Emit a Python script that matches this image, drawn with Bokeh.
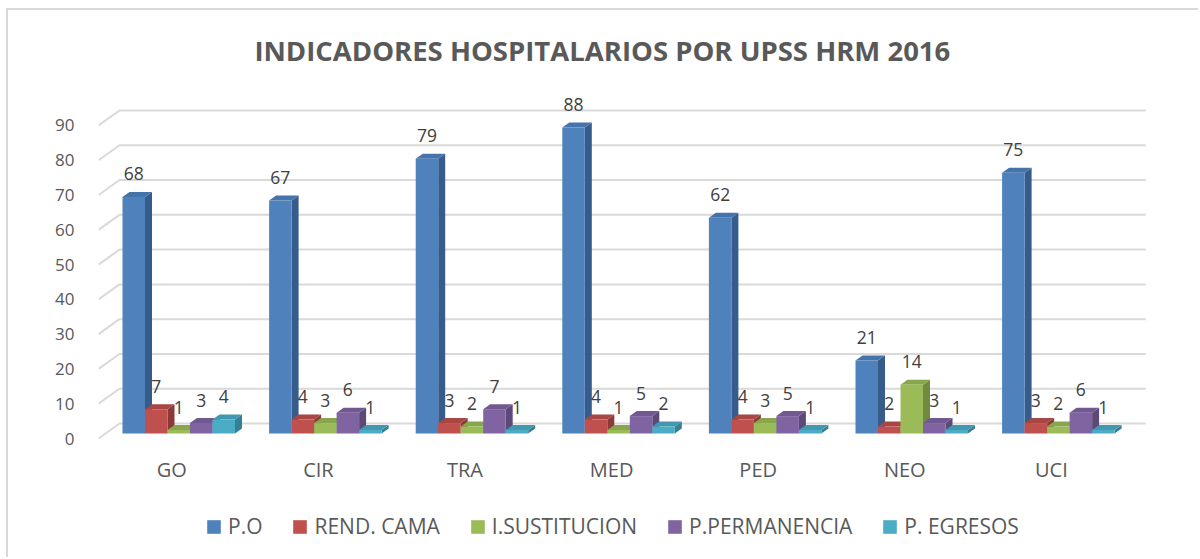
from bokeh.plotting import figure
from bokeh.models import Range1d, FixedTicker, Legend, LegendItem
from bokeh.core.properties import value
from bokeh.embed import file_html
from bokeh.resources import INLINE

# ---------------- data ----------------
categories = ["GO", "CIR", "TRA", "MED", "PED", "NEO", "UCI"]
series_names = ["P.O", "REND. CAMA", "I.SUSTITUCION", "P.PERMANENCIA", "P. EGRESOS"]
p_o = [68, 67, 79, 88, 62, 21, 75]
rend_cama = [7, 4, 3, 4, 4, 2, 3]
i_sustitucion = [1, 3, 2, 1, 3, 14, 2]
p_permanencia = [3, 6, 7, 5, 5, 3, 6]
p_egresos = [4, 1, 1, 2, 1, 1, 1]
y_ticks = [0, 10, 20, 30, 40, 50, 60, 70, 80, 90]
title_text = "INDICADORES  HOSPITALARIOS  POR UPSS HRM 2016"

series_values = [p_o, rend_cama, i_sustitucion, p_permanencia, p_egresos]

# ---------------- style / layout ----------------
front_colors = ["#4F81BD", "#C0504D", "#9BBB59", "#8064A2", "#4BACC6"]
side_colors = ["#365C8C", "#8C3A38", "#728A40", "#5D4978", "#377F93"]
top_colors = ["#4573AC", "#A84643", "#88A64C", "#715891", "#4198B0"]
FONT = "Open Sans"
GRID_COLOR = "#D9D9D9"
TEXT_COLOR = "#595959"
LABEL_COLOR = "#404040"

ORIGIN_X, ORIGIN_Y = 8, 10  # page position of the canvas (after margin + border)
W, H = 1200 - ORIGIN_X, 559 - ORIGIN_Y
FRAME_LEFT = 98           # page x of front-left of floor (x=0)
ZERO_Y = 438              # page y of value 0 on front plane
PX_CAT = 146.6            # pixels per category
PX_VAL = 3.478            # pixels per value unit
DEPTH_PX = (21, 15)       # back-wall offset in px
GAP = 17 / PX_CAT
BW = 22.5 / PX_CAT
DX = DEPTH_PX[0] / PX_CAT
DY = DEPTH_PX[1] / PX_VAL
BDX, BDY = DX / 3, DY / 3  # bar front offset & bar depth

min_left = FRAME_LEFT - ORIGIN_X
x_start = 0.0
x_end = (ORIGIN_X + W - FRAME_LEFT) / PX_CAT
y_end = (ZERO_Y - ORIGIN_Y) / PX_VAL
y_start = (ZERO_Y - (ORIGIN_Y + H)) / PX_VAL

p = figure(width=W, height=H, output_backend="svg", toolbar_location=None,
           x_range=Range1d(x_start, x_end), y_range=Range1d(y_start, y_end),
           x_axis_location=None, min_border_left=min_left, min_border_right=0,
           min_border_top=0, min_border_bottom=0, outline_line_color=None)
p.styles = {"margin-left": "6px", "margin-top": "8px",
            "border-left": "2px solid #D9D9D9", "border-top": "2px solid #D9D9D9"}
p.xgrid.visible = False
p.ygrid.visible = False

ax = p.yaxis[0]
ax.ticker = FixedTicker(ticks=y_ticks)
ax.axis_line_color = None
ax.major_tick_line_color = None
ax.minor_tick_line_color = None
ax.major_label_standoff = 18
ax.major_label_text_font = FONT
ax.major_label_text_font_size = "17px"
ax.major_label_text_color = TEXT_COLOR

# gridlines (front-left diagonal + back wall)
n = len(categories)
gx = [[0, DX, n + DX] for _ in y_ticks]
gy = [[t, t + DY, t + DY] for t in y_ticks]
p.multi_line(gx, gy, line_color=GRID_COLOR, line_width=2)

# bars
legend_items = []
label_x, label_y, label_t = [], [], []
for i in range(n):
    for j, vals in enumerate(series_values):
        v = vals[i]
        x0 = i + GAP + j * BW + BDX
        x1 = x0 + BW
        b = BDY
        t = b + v
        p.patch([x1, x1 + BDX, x1 + BDX, x1], [b, b + BDY, t + BDY, t],
                fill_color=side_colors[j], line_color=None)
        p.patch([x0, x0 + BDX, x1 + BDX, x1], [t, t + BDY, t + BDY, t],
                fill_color=top_colors[j], line_color=None)
        front = p.quad(left=x0, right=x1, bottom=b, top=t,
                       fill_color=front_colors[j], line_color=None)
        if i == 0:
            legend_items.append(LegendItem(label=series_names[j], renderers=[front]))
        label_x.append((x0 + x1) / 2)
        label_y.append(t)
        label_t.append(str(v))

p.text(x=label_x, y=label_y, text=label_t, y_offset=-23,
       text_align="center", text_baseline="middle",
       text_font=value(FONT), text_font_size="17.5px", text_color=LABEL_COLOR)

# category labels
p.text(x=[i + 0.5 for i in range(n)], y=[0] * n, text=categories, y_offset=31,
       text_align="center", text_baseline="middle",
       text_font=value(FONT), text_font_size="20px", text_color=TEXT_COLOR)

# title
p.text(x=[(609 - FRAME_LEFT) / PX_CAT], y=[(ZERO_Y - 50) / PX_VAL], text=[title_text],
       text_align="center", text_baseline="middle", text_font=value(FONT),
       text_font_size="27.5px", text_font_style="bold", text_color=TEXT_COLOR)

legend = Legend(items=legend_items, orientation="horizontal",
                location=(205 - FRAME_LEFT, 559 - 527 - 13),
                glyph_width=17, glyph_height=17, label_standoff=6, spacing=29,
                padding=0, margin=0, border_line_color=None,
                background_fill_alpha=0, label_text_font=FONT,
                label_text_font_size="21px", label_text_color=TEXT_COLOR,
                label_height=26)
p.add_layout(legend, "center")

open("out.html", "w").write(file_html(p, INLINE))
